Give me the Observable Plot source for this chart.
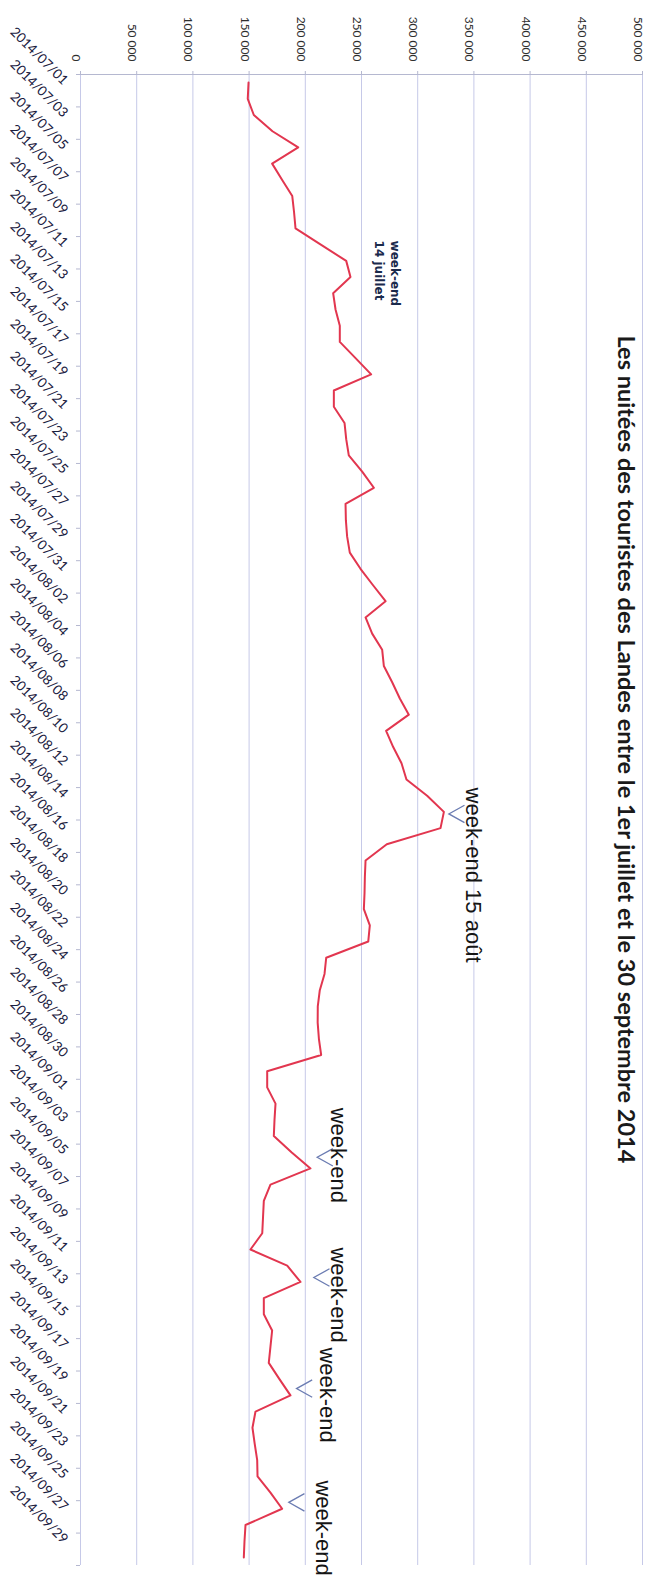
<!DOCTYPE html>
<html>
<head>
<meta charset="utf-8">
<script src="https://cdn.jsdelivr.net/npm/d3@7"></script>
<script src="https://cdn.jsdelivr.net/npm/@observablehq/plot@0.6"></script>
<style>
  html, body { margin: 0; padding: 0; background: #ffffff; }
  #chart svg { display: block; }
</style>
</head>
<body>
<div id="chart"></div>
<script>
// ---- Data ----
const firstDay = "2014-07-01";
const lastDay = "2014-09-30";
const nuitees = [
  149500, 148800, 154200, 170800, 193700, 170500, 179300, 188400, 190000, 191300,
  213800, 236400, 240200, 224800, 226900, 230700, 230700, 244700, 258600, 225400,
  225400, 234900, 236400, 238700, 250600, 261000, 235800, 236100, 237200, 239600,
  249100, 260100, 271400, 253600, 259500, 268400, 269900, 277300, 284100, 292100,
  271900, 278200, 285600, 290000, 308400, 323300, 320300, 272500, 253600, 253000,
  252700, 252100, 257400, 256000, 218600, 217100, 212900, 211100, 211000, 212100,
  214100, 166100, 166100, 173500, 172600, 172000, 187700, 204600, 169000, 163100,
  162400, 161700, 151200, 183900, 195700, 163100, 163100, 170500, 169000, 167500,
  177000, 186800, 155700, 153000, 155000, 157200, 157500, 169000, 179400, 146800,
  145900, 145300
];
const valueTicks = [0, 50000, 100000, 150000, 200000, 250000, 300000, 350000, 400000, 450000, 500000];
const title = "Les nuitées des touristes des Landes entre le 1er juillet et le 30 septembre 2014";

// annotation anchors, in data coordinates
const arrowDates = ["2014-08-15T03:00Z", "2014-09-05T07:30Z", "2014-09-12T17:30Z", "2014-09-19T14:00Z", "2014-09-26T14:30Z"];
const arrowValues = [327700, 210600, 207600, 192200, 185300];
const bigLabels = ["week-end 15 août", "week-end", "week-end", "week-end", "week-end"];
const bigLabelDates = ["2014-08-13T12:00Z", "2014-09-02T06:00Z", "2014-09-10T21:00Z", "2014-09-17T01:00Z", "2014-09-25T06:00Z"];
const bigLabelValues = [349600, 229500, 229500, 219500, 215900];
const smallLabel = "week-end\n14 juillet";
const smallLabelDate = "2014-07-10T18:00Z";
const smallLabelValue = 273600;

// ---- Derived tables ----
const days = d3.utcDay.range(new Date(firstDay), d3.utcDay.offset(new Date(lastDay), 1));
const series = days.map((d, i) => ({date: d, value: nuitees[i]}));
const labelDays = days.filter((d, i) => i % 2 === 0);
const yStart = d3.utcHour.offset(days[0], -12);
const yEnd = d3.utcHour.offset(days[days.length - 1], 12);
const boundaryTicks = d3.range(0, days.length + 1, 2).map(k => d3.utcHour.offset(yStart, 24 * k));
const arrows = arrowDates.map((d, i) => ({date: new Date(d), value: arrowValues[i]}));
const bigNotes = bigLabels.map((t, i) => ({date: new Date(bigLabelDates[i]), value: bigLabelValues[i], label: t}));
const smallNotes = [{date: new Date(smallLabelDate), value: smallLabelValue, label: smallLabel}];

const fmtValue = d => d3.format(",")(d).replace(/,/g, " ");
const fmtDate = d3.utcFormat("%Y/%m/%d");

const chevron = {
  draw(ctx, size) {
    const r = Math.sqrt(size / Math.PI);
    ctx.moveTo(1.8 * r, -r);
    ctx.lineTo(0, 0);
    ctx.lineTo(1.8 * r, r);
  }
};

const chart = Plot.plot({
  width: 659,
  height: 1578,
  marginTop: 74,
  marginLeft: 80,
  marginRight: 17,
  marginBottom: 13,
  style: {fontFamily: "Lato, 'Liberation Sans', sans-serif", background: "#ffffff", overflow: "visible"},
  x: {domain: [0, 500000], axis: null, label: null},
  y: {type: "utc", domain: [yStart, yEnd], reverse: true, axis: null, label: null},
  marks: [
    Plot.ruleX(valueTicks, {stroke: "#c6c9e8", strokeWidth: 1}),
    Plot.ruleY([yStart], {stroke: "#b5b8d0", strokeWidth: 1}),
    Plot.axisX(valueTicks, {anchor: "top", tickSize: 4, tickFormat: () => "", label: null, stroke: "#b5b8d0"}),
    Plot.axisY(boundaryTicks, {anchor: "left", tickSize: 4, tickFormat: () => "", label: null, stroke: "#b5b8d0"}),
    Plot.text(valueTicks, {
      x: d => d, frameAnchor: "top", dy: -13, rotate: 90, textAnchor: "end",
      text: fmtValue, fontSize: 12, fill: "#2e2e2e"
    }),
    Plot.text(labelDays, {
      y: d => d, frameAnchor: "left", dx: -15, rotate: 45, textAnchor: "end",
      text: fmtDate, fontSize: 13.5, fill: "#1a2040"
    }),
    Plot.line(series, {x: "value", y: "date", stroke: "#e2364f", strokeWidth: 2, strokeLinejoin: "round"}),
    Plot.dot(arrows, {x: "value", y: "date", symbol: chevron, r: 8.7, fill: "none", stroke: "#6b7cb2", strokeWidth: 1.3}),
    Plot.text(bigNotes, {
      x: "value", y: "date", text: "label", rotate: 90, textAnchor: "start",
      fontSize: 22, fontFamily: "'Liberation Sans', sans-serif", fill: "#151515"
    }),
    Plot.text(smallNotes, {
      x: "value", y: "date", text: "label", rotate: 90, textAnchor: "start",
      fontSize: 12, fontWeight: "bold", lineHeight: 1.35,
      fontFamily: "'DejaVu Sans', sans-serif", fill: "#1b2a4c"
    }),
    Plot.text([title], {
      frameAnchor: "top-right", dx: -8, dy: 261, rotate: 90, textAnchor: "start",
      fontSize: 23.5, fontWeight: "bold", fill: "#1a1a1a"
    })
  ]
});

document.getElementById("chart").appendChild(chart);
</script>
</body>
</html>
